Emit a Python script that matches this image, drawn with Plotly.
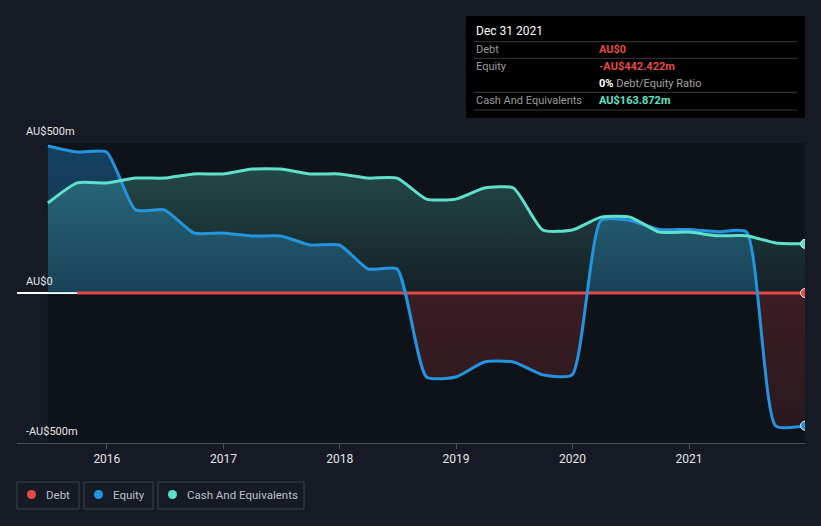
import plotly.graph_objects as go

# ---------------- data ----------------
dates = ["2015-06-30", "2015-09-30", "2015-12-31",
         "2016-03-31", "2016-06-30", "2016-09-30", "2016-12-31",
         "2017-03-31", "2017-06-30", "2017-09-30", "2017-12-31",
         "2018-03-31", "2018-06-30", "2018-09-30", "2018-12-31",
         "2019-03-31", "2019-06-30", "2019-09-30", "2019-12-31",
         "2020-03-31", "2020-06-30", "2020-09-30", "2020-12-31",
         "2021-03-31", "2021-06-30", "2021-09-30", "2021-12-31"]
equity = [490, 470, 470, 277, 277, 200, 200, 190, 190, 160, 160, 80, 80,
          -280, -280, -230, -230, -273, -273, 242, 242, 212, 212, 204, 204,
          -443, -442.422]
cash = [300, 367, 367, 383, 383, 397, 397, 413, 413, 397, 397, 383, 383,
        313, 313, 350, 350, 210, 210, 253, 253, 203, 203, 191, 191,
        167, 163.872]
debt_dates = dates[1:]
debt = [0] * len(debt_dates)

ytick_vals = [500, 0, -500]
ytick_text = ["AU$500m", "AU$0", "-AU$500m"]
xtick_vals = ["2016-01-01", "2017-01-01", "2018-01-01", "2019-01-01", "2020-01-01", "2021-01-01"]
xtick_text = ["2016", "2017", "2018", "2019", "2020", "2021"]

legend_names = ["Debt", "Equity", "Cash And Equivalents"]

tip_title = "Dec 31 2021"
tip_labels = ["Debt", "Equity", "", "Cash And Equivalents"]
tip_values = ["AU$0", "-AU$442.422m", "<b><span style='color:#ffffff'>0%</span></b> Debt/Equity Ratio", "AU$163.872m"]

# ---------------- style ----------------
BG = "#151a24"
PLOT_DARK = "#0e1219"
C_DEBT = "#e64848"
C_EQ = "#2394df"
C_CASH = "#5fe0cb"
FONT = "Roboto"
W, H = 821, 526
L, R, T, B = 17, 805, 143, 443
SMOOTH = 0.55


def px(xp):
    return (xp - L) / (R - L)


def py(yp):
    return (B - yp) / (B - T)


fig = go.Figure()

# equity fill (blue above zero, red below)
fig.add_trace(go.Scatter(
    x=dates, y=equity, mode="lines", line=dict(width=0, shape="spline", smoothing=SMOOTH),
    fill="tozeroy",
    fillgradient=dict(type="vertical", start=-500, stop=500,
                      colorscale=[[0, "rgba(230,70,70,0.12)"], [0.4999, "rgba(230,70,70,0.21)"],
                                  [0.5, "rgba(35,148,223,0.27)"], [1, "rgba(35,148,223,0.36)"]]),
    hoverinfo="skip", showlegend=False))

# cash fill
fig.add_trace(go.Scatter(
    x=dates, y=cash, mode="lines", line=dict(width=0, shape="spline", smoothing=SMOOTH),
    fill="tozeroy",
    fillgradient=dict(type="vertical", start=0, stop=500,
                      colorscale=[[0, "rgba(95,224,203,0.07)"], [1, "rgba(95,224,203,0.30)"]]),
    hoverinfo="skip", showlegend=False))

# debt line
fig.add_trace(go.Scatter(x=debt_dates, y=debt, mode="lines",
                         line=dict(color=C_DEBT, width=3), showlegend=False, hoverinfo="skip"))
# equity line
fig.add_trace(go.Scatter(x=dates, y=equity, mode="lines",
                         line=dict(color=C_EQ, width=3, shape="spline", smoothing=SMOOTH),
                         showlegend=False, hoverinfo="skip"))
# cash line
fig.add_trace(go.Scatter(x=dates, y=cash, mode="lines",
                         line=dict(color=C_CASH, width=3, shape="spline", smoothing=SMOOTH),
                         showlegend=False, hoverinfo="skip"))
# end markers
fig.add_trace(go.Scatter(x=[debt_dates[-1], dates[-1], dates[-1]],
                         y=[debt[-1], equity[-1], cash[-1]], mode="markers",
                         marker=dict(size=9, color=[C_DEBT, C_EQ, C_CASH],
                                     line=dict(color="#f0f0f0", width=1)),
                         showlegend=False, hoverinfo="skip"))

shapes = []
annotations = []

# dark data region
shapes.append(dict(type="rect", xref="x", yref="y", x0=dates[0], x1=dates[-1],
                   y0=-500, y1=500, fillcolor=PLOT_DARK, line=dict(width=0), layer="below"))

# y tick labels
for v, t in zip(ytick_vals, ytick_text):
    annotations.append(dict(xref="paper", yref="y", x=0, y=v, xanchor="left", yanchor="bottom",
                            xshift=7, yshift=3, text=t, showarrow=False,
                            font=dict(family=FONT, size=11, color="#e6e6e6")))

# legend (manual boxes)
leg_boxes = [(17, 79), (84, 153), (158, 304)]
leg_cols = [C_DEBT, C_EQ, C_CASH]
for (x0, x1), name, col in zip(leg_boxes, legend_names, leg_cols):
    shapes.append(dict(type="rect", xref="paper", yref="paper", x0=px(x0), x1=px(x1),
                       y0=py(482), y1=py(509), line=dict(color="#3c424c", width=1),
                       fillcolor="rgba(0,0,0,0)"))
    shapes.append(dict(type="circle", xref="paper", yref="paper", x0=px(x0 + 10), x1=px(x0 + 19),
                       y0=py(490), y1=py(499), line=dict(width=0), fillcolor=col))
    annotations.append(dict(xref="paper", yref="paper", x=px(x0 + 27), y=py(495),
                            xanchor="left", yanchor="middle", text=name, showarrow=False,
                            font=dict(family=FONT, size=11.5, color="#bcc0c8")))

# tooltip box
shapes.append(dict(type="rect", xref="paper", yref="paper", x0=px(466), x1=px(805),
                   y0=py(16), y1=py(118), fillcolor="#000000", line=dict(width=0), layer="above"))
for ys in [41.7, 58.3, 92.3, 110]:
    shapes.append(dict(type="line", xref="paper", yref="paper", x0=px(474), x1=px(797),
                       y0=py(ys), y1=py(ys), line=dict(color="#3a3a3a", width=1), layer="above"))
annotations.append(dict(xref="paper", yref="paper", x=px(474), y=py(31), xanchor="left",
                        yanchor="middle", text=tip_title, showarrow=False,
                        font=dict(family=FONT, size=12, color="#ffffff")))
row_y = [50, 66, 83, 100]
val_cols = [C_DEBT, C_DEBT, "#a0a0a0", C_CASH]
for yy, lab, val, vc in zip(row_y, tip_labels, tip_values, val_cols):
    if lab:
        annotations.append(dict(xref="paper", yref="paper", x=px(474), y=py(yy), xanchor="left",
                                yanchor="middle", text=lab, showarrow=False,
                                font=dict(family=FONT, size=11, color="#9a9a9a")))
    txt = val if vc == "#a0a0a0" else "<b>" + val + "</b>"
    annotations.append(dict(xref="paper", yref="paper", x=px(597), y=py(yy), xanchor="left",
                            yanchor="middle", text=txt, showarrow=False,
                            font=dict(family=FONT, size=11, color=vc)))

fig.update_layout(
    width=W, height=H,
    margin=dict(l=L, r=W - R, t=T, b=H - B),
    paper_bgcolor=BG, plot_bgcolor=BG,
    showlegend=False,
    hovermode=False,
    shapes=shapes, annotations=annotations,
    xaxis=dict(type="date", range=["2015-03-25", dates[-1]], tickvals=xtick_vals,
               ticktext=xtick_text, showgrid=False, zeroline=False,
               showline=True, linecolor="#4a4f58", linewidth=1,
               ticks="outside", ticklen=5, tickcolor="#4a4f58",
               tickfont=dict(family=FONT, size=12, color="#e6e6e6"), fixedrange=True),
    yaxis=dict(range=[-500, 500], tickvals=ytick_vals, showticklabels=False,
               showgrid=True, gridcolor="#3a3f48", gridwidth=1,
               zeroline=True, zerolinecolor="#ffffff", zerolinewidth=2,
               showline=False, fixedrange=True),
)

fig.write_html("out.html", config={"displayModeBar": False, "staticPlot": True},
               post_script="document.body.style.margin='0';document.body.style.background='%s';" % BG)
